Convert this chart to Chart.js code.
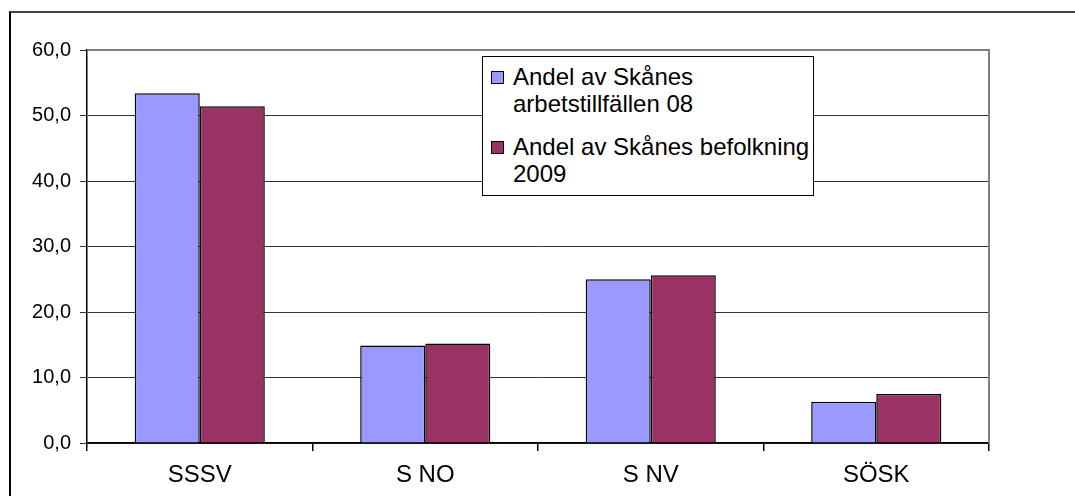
<!DOCTYPE html>
<html>
<head>
<meta charset="utf-8">
<script src="https://cdn.jsdelivr.net/npm/chart.js@4"></script>
<style>
  html, body { margin: 0; padding: 0; background: #fff; overflow: hidden; }
  body { width: 1075px; height: 496px; position: relative; font-family: "Liberation Sans", Arial, sans-serif; }
  #frame { position: absolute; left: 9px; top: 11px; width: 2000px; height: 1000px;
           border-left: 2px solid #000; border-top: 2px solid #444; }
  #wrap { position: absolute; left: 0; top: 0; width: 1075px; height: 496px; }
  #legend { position: absolute; left: 482px; top: 56px; width: 330px; height: 138px;
            background: #fff; border: 1px solid #000; font-size: 24px; color: #000; }
  .item { position: absolute; left: 8px; line-height: 27px; }
  .item .sw { position: absolute; left: 0; top: 8px; width: 11px; height: 11px; border: 1px solid #000; }
  .item .tx { margin-left: 22px; white-space: nowrap; }
</style>
</head>
<body>
<div id="frame"></div>
<div id="wrap"><canvas id="chart" width="1075" height="496"></canvas></div>
<div id="legend"></div>
<script>
const categories = ['SSSV', 'S NO', 'S NV', 'SÖSK'];
const jobsShare = [53.4, 14.9, 25.0, 6.3];
const popShare = [51.4, 15.2, 25.6, 7.5];
const seriesNames = [
  ['Andel av Skånes', 'arbetstillfällen 08'],
  ['Andel av Skånes befolkning', '2009'],
];
const colors = ['#9999ff', '#993366'];
const yTicks = [0, 10, 20, 30, 40, 50, 60];

// grå ram runt plotytan (topp + höger)
const plotFrame = {
  id: 'plotFrame',
  afterDraw(chart) {
    const { ctx, chartArea: a } = chart;
    ctx.save();
    ctx.strokeStyle = '#808080';
    ctx.lineWidth = 2;
    ctx.beginPath();
    ctx.moveTo(a.left, a.top);
    ctx.lineTo(a.right, a.top);
    ctx.lineTo(a.right, a.bottom);
    ctx.stroke();
    ctx.restore();
  },
};

new Chart(document.getElementById('chart'), {
  type: 'bar',
  data: {
    labels: categories,
    datasets: [
      { label: seriesNames[0].join(' '), data: jobsShare, backgroundColor: colors[0],
        borderColor: '#000', borderWidth: 1.5 },
      { label: seriesNames[1].join(' '), data: popShare, backgroundColor: colors[1],
        borderColor: '#000', borderWidth: 1.5 },
    ],
  },
  options: {
    responsive: false,
    animation: false,
    layout: { padding: { top: 50, right: 86, left: 0, bottom: 0 } },
    datasets: { bar: { barPercentage: 1, categoryPercentage: 0.577 } },
    plugins: { legend: { display: false }, tooltip: { enabled: false } },
    scales: {
      x: {
        afterFit(s) { s.height = 53; },
        grid: { drawOnChartArea: false, tickLength: 8, color: '#000', lineWidth: 1.5 },
        border: { color: '#000', width: 1.5 },
        ticks: { color: '#000', font: { size: 24, family: '"Liberation Sans", Arial' }, padding: 10 },
      },
      y: {
        min: 0, max: 60,
        afterFit(s) { s.width = 87; },
        afterBuildTicks(s) { s.ticks = yTicks.map(v => ({ value: v })); },
        grid: { color: '#333', lineWidth: 1, tickLength: 7 },
        border: { color: '#000', width: 1.5 },
        ticks: {
          color: '#000', padding: 9,
          font: { size: 20, family: '"Liberation Sans", Arial' },
          callback: v => v.toFixed(1).replace('.', ','),
        },
      },
    },
  },
  plugins: [plotFrame],
});

const legend = document.getElementById('legend');
legend.innerHTML = seriesNames.map((lines, i) => `
  <div class="item" style="top:${6 + i * 70}px">
    <span class="sw" style="background:${colors[i]}"></span>
    <div class="tx">${lines.join('<br>')}</div>
  </div>`).join('');
</script>
</body>
</html>
